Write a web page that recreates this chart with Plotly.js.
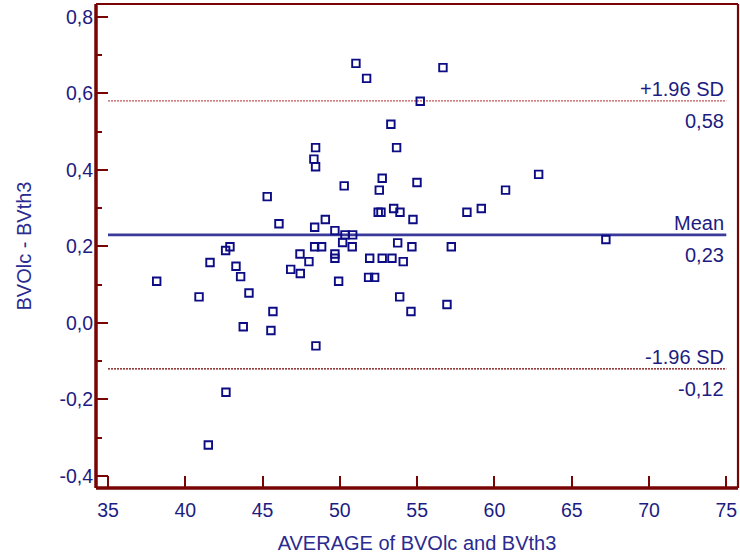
<!DOCTYPE html>
<html>
<head>
<meta charset="utf-8">
<script src="https://cdn.plot.ly/plotly-3.0.1.min.js"></script>
<style>
  html, body { margin: 0; padding: 0; background: #ffffff; }
  #chart { width: 740px; height: 556px; }
</style>
</head>
<body>
<div id="chart"></div>
<script>
// Bland-Altman agreement plot: BVOlc versus BVth3

// Mean of the two methods (x) for each subject
const averageValues = [
  38.15, 40.89, 41.60, 42.61, 42.89, 43.28, 43.58, 44.12, 43.75, 42.63,
  41.49, 45.30, 46.06, 45.67, 45.54, 46.82, 47.42, 47.44, 48.00, 48.37,
  48.37, 48.82, 49.06, 48.43, 48.32, 48.43, 48.45, 49.68, 49.68, 49.68,
  49.92, 50.18, 50.28, 50.33, 50.83, 50.80, 51.04, 51.73, 51.93, 51.86,
  52.25, 52.48, 52.66, 52.55, 52.74, 52.74, 53.30, 53.48, 53.37, 53.67,
  53.74, 53.89, 53.87, 54.10, 54.60, 54.66, 54.73, 54.99, 55.20, 56.67,
  56.93, 57.21, 58.22, 59.15, 60.72, 62.86, 67.21
];

// Difference between the two methods (y) for each subject
const differenceValues = [
  0.109, 0.068, 0.158, 0.189, 0.199, 0.148, 0.121, 0.078, -0.010, -0.181,
  -0.319, 0.330, 0.259, 0.030, -0.020, 0.140, 0.180, 0.129, 0.160, 0.250,
  0.199, 0.199, 0.270, 0.458, 0.428, 0.408, -0.060, 0.241, 0.180, 0.169,
  0.109, 0.210, 0.358, 0.230, 0.230, 0.199, 0.678, 0.639, 0.169, 0.119,
  0.119, 0.289, 0.289, 0.347, 0.378, 0.169, 0.519, 0.299, 0.169, 0.458,
  0.209, 0.289, 0.068, 0.160, 0.030, 0.199, 0.270, 0.367, 0.579, 0.667,
  0.048, 0.199, 0.289, 0.299, 0.347, 0.388, 0.218
];

// Mean difference and limits of agreement
const limitNames  = ['+1.96 SD', 'Mean', '-1.96 SD'];
const limitValues = [0.58, 0.23, -0.12];

// Axis ticks
const xTickValues = [35, 40, 45, 50, 55, 60, 65, 70, 75];
const xTickLabels = ['35', '40', '45', '50', '55', '60', '65', '70', '75'];
const yTickValues = [-0.4, -0.2, 0.0, 0.2, 0.4, 0.6, 0.8];
const yTickLabels = ['-0,4', '-0,2', '0,0', '0,2', '0,4', '0,6', '0,8'];

const xSpan = [35, 75];

const FONT = 'Liberation Sans, Arial, Helvetica, sans-serif';
const NAVY = '#1c1c82';
const FRAME = '#780404';

const lineStyles = [
  { color: '#c25555', width: 1.2, dash: '2px,1px' },
  { color: '#3a3a9c', width: 2.6, dash: 'solid' },
  { color: '#7a0000', width: 1.2, dash: '2px,1px' }
];

const fmtComma = v => v.toFixed(2).replace('.', ',');

const traces = [{
  type: 'scatter',
  mode: 'markers',
  x: averageValues,
  y: differenceValues,
  marker: {
    symbol: 'square-open',
    size: 7.5,
    color: '#0c0c84',
    line: { width: 1.9, color: '#0c0c84' }
  },
  hoverinfo: 'x+y',
  showlegend: false
}];

const shapes = limitValues.map((v, i) => ({
  type: 'line', xref: 'x', yref: 'y',
  x0: xSpan[0], x1: xSpan[1], y0: v, y1: v,
  line: lineStyles[i],
  layer: 'below'
}));

// frame: heavier left and bottom axis lines, lighter top and right edges
const frameEdges = [
  { x0: 0, x1: 1, y0: 1, y1: 1, w: 2.2 },
  { x0: 1, x1: 1, y0: 0, y1: 1, w: 2.2 },
  { x0: 0, x1: 0, y0: 0, y1: 1, w: 3.5 },
  { x0: 0, x1: 1, y0: 0, y1: 0, w: 3.5 }
];
frameEdges.forEach(e => shapes.push({
  type: 'line', xref: 'paper', yref: 'paper',
  x0: e.x0, x1: e.x1, y0: e.y0, y1: e.y1,
  line: { color: FRAME, width: e.w },
  layer: 'above'
}));

const annotations = [];
limitValues.forEach((v, i) => {
  annotations.push({
    xref: 'x', yref: 'y', x: xSpan[1], y: v,
    text: limitNames[i], showarrow: false,
    xanchor: 'right', yanchor: 'middle', yshift: 12,
    font: { family: FONT, size: 20, color: NAVY }
  });
  annotations.push({
    xref: 'x', yref: 'y', x: xSpan[1], y: v,
    text: fmtComma(v), showarrow: false,
    xanchor: 'right', yanchor: 'middle', yshift: -20,
    font: { family: FONT, size: 20, color: NAVY }
  });
});

const layout = {
  width: 740,
  height: 556,
  margin: { l: 96, r: 2, t: 4, b: 68 },
  paper_bgcolor: '#ffffff',
  plot_bgcolor: '#ffffff',
  font: { family: FONT, size: 19.5, color: NAVY },
  xaxis: {
    range: [34.224, 75.757],
    tickmode: 'array',
    tickvals: xTickValues,
    ticktext: xTickLabels,
    ticks: 'inside',
    ticklen: 12,
    tickwidth: 2,
    tickcolor: FRAME,
    showline: false,
    showgrid: false,
    zeroline: false,
    ticklabelstandoff: 8,
    tickfont: { family: FONT, size: 19.5, color: NAVY },
    title: {
      text: 'AVERAGE of BVOlc and BVth3',
      font: { family: FONT, size: 20, color: '#2a2a90' },
      standoff: 16
    }
  },
  yaxis: {
    range: [-0.4313, 0.8332],
    tickmode: 'array',
    tickvals: yTickValues,
    ticktext: yTickLabels,
    ticks: 'inside',
    ticklen: 12,
    tickwidth: 2,
    tickcolor: FRAME,
    minor: {
      tickmode: 'linear',
      tick0: 0,
      dtick: 0.1,
      ticks: 'inside',
      ticklen: 6,
      tickwidth: 2,
      tickcolor: FRAME,
      showgrid: false
    },
    showline: false,
    showgrid: false,
    zeroline: false,
    ticklabelstandoff: 2,
    tickfont: { family: FONT, size: 19.5, color: NAVY },
    title: {
      text: 'BVOlc - BVth3',
      font: { family: FONT, size: 20, color: '#2a2a90' },
      standoff: 22
    }
  },
  shapes: shapes,
  annotations: annotations,
  showlegend: false
};

Plotly.newPlot('chart', traces, layout, { displayModeBar: false, staticPlot: true });
</script>
</body>
</html>
